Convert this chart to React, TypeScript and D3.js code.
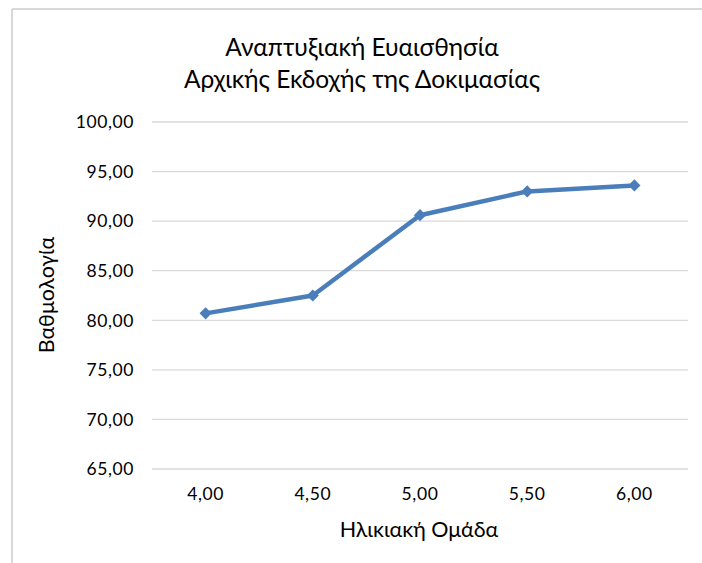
import React from "react";
import * as d3 from "d3";

const categories = ["4,00", "4,50", "5,00", "5,50", "6,00"];
const scores = [80.7, 82.5, 90.6, 93.0, 93.6];
const yTicks = [65, 70, 75, 80, 85, 90, 95, 100];
const titleLines = ["Αναπτυξιακή Ευαισθησία", "Αρχικής Εκδοχής της Δοκιμασίας"];
const xTitle = "Ηλικιακή Ομάδα";
const yTitle = "Βαθμολογία";

const W = 702, H = 563;
const left = 152, right = 688, top = 122, bottom = 469;
const font = "Lato, 'Open Sans', sans-serif";
const color = "#4a7ebb";

export default function App() {
  const x = d3.scaleBand<string>().domain(categories).range([left, right]);
  const y = d3.scaleLinear().domain([65, 100]).range([bottom, top]);
  const line = d3.line<number>()
    .x((_, i) => (x(categories[i]) as number) + x.bandwidth() / 2)
    .y((d) => y(d));
  const diamond = d3.symbol().type(d3.symbolDiamond2).size(95)();
  const fmt = (v: number) => v.toFixed(2).replace(".", ",");

  return (
    <svg width={W} height={H} style={{ position: "absolute", left: 0, top: 0, background: "#fff" }}>
      <rect x={0} y={0} width={W} height={H} fill="#fff" />
      <line x1={12} y1={9} x2={12} y2={H} stroke="#d9d9d9" strokeWidth={2} />
      <line x1={12} y1={9} x2={W} y2={9} stroke="#d9d9d9" strokeWidth={2} />
      {titleLines.map((t, i) => (
        <text key={t} x={362} y={56 + i * 32} textAnchor="middle" fontFamily={font} fontSize={24.5} fill="#000">{t}</text>
      ))}
      {yTicks.map((t) => (
        <g key={t}>
          <line x1={left} x2={right} y1={y(t)} y2={y(t)} stroke="#d9d9d9" strokeWidth={1.3} />
          <text x={134} y={y(t)} dy="0.36em" textAnchor="end" fontFamily={font} fontSize={17.5} letterSpacing={0.6} fill="#000">{fmt(t)}</text>
        </g>
      ))}
      {categories.map((c) => (
        <text key={c} x={(x(c) as number) + x.bandwidth() / 2} y={500} textAnchor="middle" fontFamily={font} fontSize={17.5} letterSpacing={0.6} fill="#000">{c}</text>
      ))}
      <text x={419} y={537} textAnchor="middle" fontFamily={font} fontSize={21.5} fill="#000">{xTitle}</text>
      <text transform={`translate(54,295) rotate(-90)`} textAnchor="middle" fontFamily={font} fontSize={21.5} fill="#000">{yTitle}</text>
      <path d={line(scores) || ""} fill="none" stroke={color} strokeWidth={4.5} strokeLinejoin="round" />
      {scores.map((v, i) => (
        <path key={i} d={diamond || ""} transform={`translate(${(x(categories[i]) as number) + x.bandwidth() / 2},${y(v)})`} fill={color} />
      ))}
    </svg>
  );
}
